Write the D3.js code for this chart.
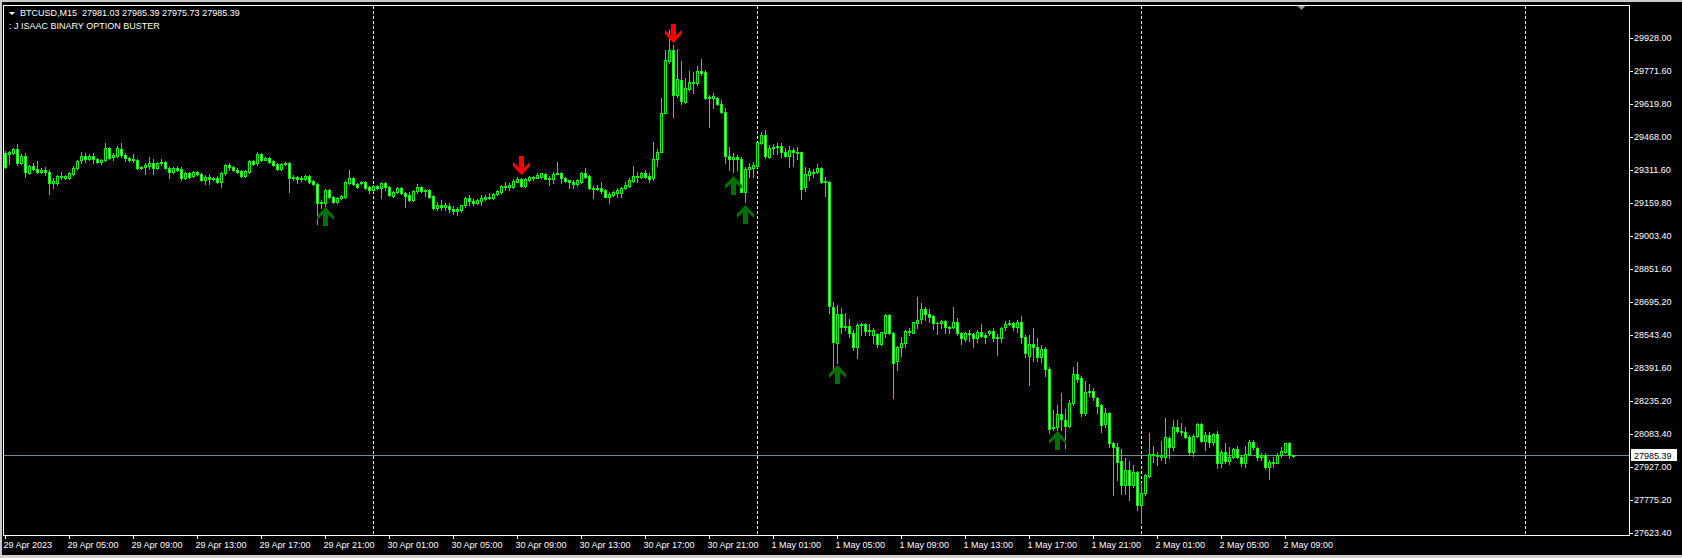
<!DOCTYPE html>
<meta charset="utf-8">

<head>
    <title>BTCUSD,M15</title>
</head>

<style>
    body {
        margin: 0;
        background: #000;
    }

    svg {
        display: block;
    }

    text {
        font-family: "Liberation Sans", Arial, sans-serif;
        font-size: 9px;
        fill: #fff;
        white-space: pre;
    }
</style>

<body>
    <svg></svg>

    <script src="https://cdnjs.cloudflare.com/ajax/libs/d3/7.8.5/d3.min.js"></script>
    <script>

        // Configuration
        var width = 1682;
        var height = 558;

        var symbol = "BTCUSD,M15";
        var indicatorName = "J ISAAC BINARY OPTION BUSTER";

        // M15 bars, first bar 29 Apr 2023 01:00
        var opens = [
            29391, 29387, 29391, 29410, 29345, 29377, 29298, 29331, 29317, 29303,
            29312, 29303, 29252, 29252, 29284, 29275, 29275, 29293, 29321, 29359,
            29377, 29363, 29377, 29363, 29349, 29359, 29415, 29373, 29377, 29410,
            29382, 29368, 29359, 29359, 29321, 29326, 29331, 29345, 29321, 29345,
            29349, 29321, 29303, 29321, 29317, 29275, 29298, 29284, 29303, 29293,
            29266, 29279, 29270, 29275, 29256, 29298, 29335, 29326, 29312, 29307,
            29284, 29303, 29354, 29345, 29387, 29359, 29368, 29354, 29340, 29317,
            29340, 29345, 29275, 29279, 29270, 29270, 29284, 29261, 29247, 29158,
            29158, 29219, 29186, 29163, 29182, 29186, 29252, 29275, 29247, 29252,
            29256, 29233, 29219, 29238, 29228, 29252, 29233, 29191, 29210,
            29228, 29205, 29196, 29172, 29214, 29233, 29214, 29219, 29191, 29135, 29149,
            29140, 29144, 29130, 29121, 29126, 29149, 29182, 29167, 29158, 29167,
            29177, 29182, 29182, 29200, 29210, 29238, 29233, 29233, 29256, 29270,
            29238, 29266, 29275, 29275, 29279, 29293, 29270, 29270, 29293, 29298,
            29275, 29266, 29256, 29247, 29256, 29298, 29284,
            29228, 29224, 29228, 29219, 29186, 29196, 29205, 29205, 29228, 29238,
            29261, 29284, 29279, 29298, 29284, 29275, 29363, 29396, 29577, 29820,
            29871, 29661, 29731, 29629, 29689, 29722, 29717, 29773, 29768, 29652,
            29647, 29647, 29619, 29582, 29377, 29363, 29373, 29363, 29210, 29317,
            29321, 29331, 29438, 29475, 29373, 29415, 29419,
            29424, 29396, 29377, 29405, 29396, 29396, 29233, 29289, 29298, 29303,
            29321, 29261, 29256, 28674, 28507, 28642, 28581, 28586, 28553, 28488,
            28590, 28595, 28562, 28544, 28548, 28502, 28553, 28637, 28553, 28423,
            28488, 28507, 28562, 28553, 28600, 28618, 28665, 28642, 28632, 28600,
            28600, 28609, 28581, 28581, 28604, 28553, 28525, 28553, 28548, 28530,
            28558, 28544, 28553, 28562, 28530, 28530, 28581, 28595, 28600, 28581,
            28604, 28535, 28446, 28502, 28488, 28441, 28479, 28386, 28111, 28116,
            28176, 28148, 28120, 28227, 28362, 28344, 28181, 28278, 28283, 28250,
            28218, 28130, 28181, 28041, 28022, 27957, 27846, 27915, 27846, 27906,
            27752, 27808, 27887, 27990, 27985, 27976, 27976, 28064, 28022, 28115,
            28097, 28092, 28069, 27999, 28074, 28129, 28050, 28078, 28046, 28083,
            27948, 27999, 27957, 27976, 28013, 27976, 27948, 27990, 28046, 28018,
            27976, 27985, 27929, 27953, 27948, 27985, 27999, 28041, 27981.03
        ];
        var highs = [
            29400, 29400, 29415, 29433, 29387, 29391, 29335, 29345, 29354, 29321,
            29326, 29312, 29275, 29289, 29303, 29289, 29303, 29331, 29359, 29396,
            29391, 29387, 29391, 29368, 29363, 29438, 29419, 29391, 29424, 29438,
            29391, 29373, 29387, 29363, 29331, 29345, 29373, 29363, 29349, 29363,
            29354, 29326, 29326, 29331, 29326, 29303, 29303, 29307, 29307, 29298,
            29289, 29293, 29279, 29284, 29303, 29340, 29345, 29331, 29321, 29312,
            29312, 29359, 29359, 29396, 29391, 29373, 29373, 29359, 29345, 29345,
            29349, 29349, 29289, 29284, 29284, 29289, 29289, 29266, 29252, 29172,
            29224, 29224, 29191, 29186, 29196, 29261, 29312, 29279, 29252, 29261,
            29261, 29238, 29242, 29242, 29256, 29256, 29238, 29214, 29233,
            29233, 29210, 29210, 29219, 29247, 29238, 29224, 29224, 29196, 29163, 29172,
            29158, 29158, 29144, 29140, 29149, 29186, 29196, 29177, 29177, 29196,
            29196, 29205, 29205, 29219, 29242, 29256, 29252, 29270, 29279, 29275,
            29275, 29284, 29284, 29298, 29298, 29298, 29284, 29303, 29349, 29303,
            29279, 29266, 29266, 29270, 29303, 29321, 29289,
            29238, 29242, 29256, 29224, 29210, 29214, 29228, 29233, 29256, 29275,
            29331, 29303, 29303, 29312, 29298, 29442, 29410, 29647, 29871, 29964,
            29894, 29875, 29820, 29740, 29773, 29768, 29796, 29829, 29778, 29661,
            29671, 29652, 29638, 29601, 29419, 29391, 29382, 29373, 29326, 29345,
            29349, 29442, 29489, 29498, 29429, 29433, 29438,
            29438, 29415, 29424, 29415, 29419, 29396, 29326, 29321, 29317, 29340,
            29326, 29279, 29261, 28698, 28684, 28670, 28646, 28619, 28567, 28600,
            28600, 28600, 28595, 28576, 28553, 28558, 28642, 28642, 28558, 28493,
            28535, 28567, 28576, 28604, 28721, 28693, 28674, 28665, 28637, 28604,
            28614, 28614, 28586, 28674, 28623, 28558, 28558, 28567, 28553, 28567,
            28595, 28553, 28567, 28576, 28548, 28581, 28609, 28614, 28604, 28614,
            28632, 28544, 28544, 28576, 28530, 28497, 28488, 28395, 28195, 28218,
            28274, 28199, 28241, 28395, 28418, 28353, 28330, 28316, 28297, 28255,
            28223, 28204, 28185, 28046, 28041, 28013, 27971, 27957, 27938, 27911,
            27855, 27897, 28088, 28027, 27999, 28050, 28157, 28074, 28148, 28148,
            28134, 28115, 28078, 28083, 28134, 28134, 28092, 28092, 28088, 28097,
            28008, 28041, 28022, 28018, 28027, 27985, 28027, 28055, 28055, 28022,
            27994, 27994, 27962, 27976, 27994, 28022, 28041, 28046, 27985.39
        ];
        var lows = [
            29321, 29340, 29387, 29335, 29340, 29279, 29293, 29312, 29298, 29298,
            29289, 29200, 29228, 29242, 29270, 29270, 29270, 29289, 29317, 29345,
            29349, 29359, 29345, 29345, 29340, 29354, 29363, 29359, 29373, 29373,
            29354, 29354, 29349, 29317, 29317, 29293, 29317, 29293, 29317, 29335,
            29317, 29275, 29298, 29307, 29266, 29270, 29275, 29279, 29289, 29261,
            29247, 29247, 29266, 29252, 29233, 29289, 29312, 29307, 29298, 29279,
            29279, 29298, 29335, 29335, 29354, 29359, 29345, 29331, 29312, 29312,
            29335, 29210, 29266, 29252, 29261, 29266, 29252, 29242, 29061, 29135,
            29144, 29182, 29158, 29158, 29177, 29182, 29247, 29242, 29228, 29247,
            29224, 29205, 29214, 29224, 29182, 29219, 29191, 29186, 29205,
            29200, 29140, 29167, 29167, 29205, 29210, 29191, 29182, 29130, 29126, 29126,
            29126, 29117, 29107, 29102, 29117, 29140, 29149, 29149, 29154, 29149,
            29172, 29177, 29177, 29196, 29205, 29219, 29219, 29228, 29256, 29233,
            29233, 29261, 29266, 29275, 29275, 29270, 29242, 29252, 29293, 29252,
            29256, 29228, 29228, 29238, 29252, 29275, 29224,
            29182, 29219, 29205, 29186, 29158, 29191, 29186, 29186, 29224, 29233,
            29256, 29256, 29275, 29275, 29256, 29266, 29331, 29396, 29577, 29810,
            29559, 29652, 29619, 29624, 29685, 29671, 29708, 29754, 29643, 29512,
            29601, 29615, 29577, 29345, 29312, 29303, 29312, 29210, 29163, 29279,
            29279, 29326, 29433, 29368, 29368, 29387, 29387,
            29373, 29373, 29326, 29331, 29363, 29177, 29214, 29266, 29279, 29298,
            29252, 29191, 28646, 28372, 28414, 28553, 28567, 28535, 28474, 28437,
            28544, 28544, 28544, 28507, 28488, 28497, 28535, 28548, 28251, 28381,
            28446, 28488, 28544, 28553, 28576, 28600, 28614, 28604, 28572, 28548,
            28576, 28553, 28553, 28576, 28544, 28502, 28516, 28516, 28488, 28511,
            28535, 28507, 28544, 28516, 28451, 28511, 28567, 28590, 28567, 28558,
            28507, 28441, 28311, 28423, 28423, 28418, 28353, 28088, 28101, 28101,
            28101, 28018, 28115, 28218, 28325, 28167, 28171, 28260, 28241, 28181,
            28092, 28115, 28022, 27799, 27869, 27804, 27804, 27776, 27836, 27729,
            27668, 27799, 27883, 27952, 27939, 27962, 27948, 27971, 28008, 28088,
            28078, 28064, 27985, 27980, 28069, 28046, 28008, 28022, 28032, 27925,
            27929, 27948, 27943, 27971, 27971, 27934, 27929, 27985, 28013, 27962,
            27962, 27920, 27873, 27929, 27948, 27976, 27994, 27971, 27975.73
        ];
        var closes = [
            29326, 29396, 29410, 29345, 29377, 29303, 29331, 29317, 29303, 29312,
            29303, 29252, 29261, 29284, 29279, 29284, 29298, 29321, 29354, 29377,
            29363, 29377, 29363, 29349, 29359, 29415, 29368, 29382, 29415, 29382,
            29368, 29359, 29363, 29321, 29326, 29335, 29345, 29321, 29345, 29349,
            29321, 29303, 29321, 29312, 29275, 29298, 29279, 29303, 29293, 29266,
            29279, 29270, 29275, 29256, 29298, 29335, 29326, 29312, 29303, 29284,
            29307, 29354, 29340, 29387, 29359, 29368, 29349, 29335, 29317, 29340,
            29345, 29275, 29279, 29270, 29275, 29284, 29256, 29247, 29158, 29163,
            29219, 29186, 29163, 29182, 29191, 29256, 29275, 29247, 29233, 29256,
            29228, 29219, 29238, 29228, 29252, 29233, 29196, 29210, 29228,
            29205, 29191, 29172, 29214, 29233, 29214, 29219, 29186, 29135, 29149, 29140,
            29149, 29130, 29121, 29130, 29149, 29182, 29167, 29158, 29172, 29182,
            29186, 29186, 29200, 29214, 29238, 29233, 29242, 29261, 29270, 29238,
            29270, 29279, 29279, 29289, 29298, 29270, 29275, 29293, 29298, 29275,
            29261, 29256, 29247, 29266, 29298, 29279, 29228,
            29224, 29228, 29214, 29186, 29200, 29210, 29219, 29228, 29242, 29266,
            29284, 29279, 29298, 29279, 29270, 29363, 29396, 29577, 29824, 29871,
            29661, 29736, 29633, 29694, 29722, 29717, 29773, 29764, 29647, 29647,
            29657, 29619, 29582, 29377, 29363, 29373, 29363, 29210, 29317, 29326,
            29335, 29442, 29475, 29377, 29415, 29419, 29424,
            29396, 29377, 29405, 29396, 29391, 29224, 29293, 29307, 29303, 29321,
            29256, 29256, 28679, 28511, 28642, 28581, 28586, 28553, 28488, 28590,
            28595, 28562, 28567, 28567, 28502, 28558, 28637, 28553, 28414, 28488,
            28507, 28562, 28558, 28604, 28614, 28665, 28642, 28628, 28600, 28598,
            28609, 28581, 28576, 28604, 28553, 28530, 28553, 28548, 28530, 28558,
            28539, 28535, 28562, 28530, 28535, 28576, 28595, 28600, 28581, 28604,
            28535, 28460, 28502, 28488, 28441, 28479, 28386, 28106, 28116, 28176,
            28153, 28120, 28227, 28362, 28339, 28181, 28278, 28283, 28255, 28213,
            28125, 28181, 28041, 28022, 27953, 27846, 27915, 27846, 27906, 27752,
            27808, 27892, 27990, 27985, 27980, 27985, 28069, 28022, 28115, 28097,
            28092, 28069, 27999, 28074, 28129, 28050, 28078, 28046, 28083, 27948,
            27999, 27957, 27976, 28013, 27976, 27948, 27990, 28046, 28022, 27976,
            27985, 27929, 27953, 27948, 27985, 28004, 28041, 27985, 27985.39
        ];

        // indicator signals: bar index + arrow tip price
        var sellIdx = [129, 167];
        var sellPrice = [29289, 29903];
        var buyIdx = [80, 182, 185, 208, 263];
        var buyPrice = [29140, 29284, 29149, 28404, 28097];

        // bar index of each day start (00:00)
        var daySeparators = [92, 188, 284, 380];
        var shiftMarkIdx = 324;

        var timeLabels = [
            "29 Apr 2023", "29 Apr 05:00", "29 Apr 09:00", "29 Apr 13:00", "29 Apr 17:00", "29 Apr 21:00",
            "30 Apr 01:00", "30 Apr 05:00", "30 Apr 09:00", "30 Apr 13:00", "30 Apr 17:00", "30 Apr 21:00",
            "1 May 01:00", "1 May 05:00", "1 May 09:00", "1 May 13:00", "1 May 17:00", "1 May 21:00",
            "2 May 01:00", "2 May 05:00", "2 May 09:00"
        ];
        var priceTicks = [
            29928.00, 29771.60, 29619.80, 29468.00, 29311.60, 29159.80, 29003.40, 28851.60,
            28695.20, 28543.40, 28391.60, 28235.20, 28083.40, 27927.00, 27775.20, 27623.40
        ];

        // Frame (note: "top" is taken by window.top, so prefixed names)
        var frameL = 3, frameT = 5, frameR = 1629, frameB = 535;
        var barStep = 4;
        var n = opens.length;

        var x = d3.scaleLinear()
            .domain([0, n - 1])
            .range([5, 5 + barStep * (n - 1)]);
        var y = d3.scaleLinear()
            .domain([27612.6, 30080.3])
            .range([frameB, frameT]);

        const svg = d3.select('svg')
            .attr('width', width)
            .attr('height', height)
            .attr('shape-rendering', 'crispEdges');

        svg.append('rect').attr('width', width).attr('height', height).attr('fill', '#000');

        // window border
        svg.append('rect').attr('x', 0).attr('y', 0).attr('width', width).attr('height', 2).attr('fill', '#c8c8c8');
        svg.append('rect').attr('x', 0).attr('y', 0).attr('width', 2).attr('height', height).attr('fill', '#c8c8c8');
        svg.append('rect').attr('x', 0).attr('y', height - 3).attr('width', width).attr('height', 3).attr('fill', '#d4d0c8');

        // day separators
        svg.append('g')
            .selectAll('line')
            .data(daySeparators)
            .enter()
            .append('line')
            .attr('x1', d => Math.round(x(d)) + 0.5)
            .attr('x2', d => Math.round(x(d)) + 0.5)
            .attr('y1', frameT + 1)
            .attr('y2', frameB)
            .attr('stroke', '#fff')
            .attr('stroke-dasharray', '3,2');

        // bid line
        const last = closes[n - 1];
        const lastY = Math.round(y(last));
        svg.append('line')
            .attr('x1', frameL).attr('x2', frameR)
            .attr('y1', lastY + 0.5).attr('y2', lastY + 0.5)
            .attr('stroke', '#778899');

        // candles
        const bars = d3.range(n);
        const candles = svg.append('g');
        candles.selectAll('rect.wick')
            .data(bars)
            .enter()
            .append('rect')
            .attr('class', 'wick')
            .attr('x', i => Math.round(x(i)))
            .attr('y', i => Math.round(y(highs[i])))
            .attr('width', 1)
            .attr('height', i => Math.round(y(lows[i])) - Math.round(y(highs[i])) + 1)
            .attr('fill', '#00ff00');

        const bodyTop = i => Math.round(y(Math.max(opens[i], closes[i])));
        const bodyBot = i => Math.round(y(Math.min(opens[i], closes[i])));

        candles.selectAll('rect.body')
            .data(bars)
            .enter()
            .append('rect')
            .attr('class', 'body')
            .attr('x', i => Math.round(x(i)) - 1)
            .attr('y', bodyTop)
            .attr('width', 3)
            .attr('height', i => bodyBot(i) - bodyTop(i) + 1)
            .attr('fill', '#00ff00');

        candles.selectAll('rect.fill')
            .data(bars.filter(i => bodyBot(i) - bodyTop(i) >= 2))
            .enter()
            .append('rect')
            .attr('class', 'fill')
            .attr('x', i => Math.round(x(i)))
            .attr('y', i => bodyTop(i) + 1)
            .attr('width', 1)
            .attr('height', i => bodyBot(i) - bodyTop(i) - 1)
            .attr('fill', i => closes[i] < opens[i] ? '#fff' : '#000');

        // arrows (tip at origin, pointing up)
        const upArrow = 'M0,0 L8.5,9 L8.5,13 L2.5,7.5 L2.5,19 L-2.5,19 L-2.5,7.5 L-8.5,13 L-8.5,9 Z';
        const arrows = svg.append('g').attr('shape-rendering', 'auto');
        arrows.selectAll('path.buy')
            .data(buyIdx)
            .enter()
            .append('path')
            .attr('class', 'buy')
            .attr('d', upArrow)
            .attr('transform', (d, k) => `translate(${Math.round(x(d)) + 0.5}, ${Math.round(y(buyPrice[k]))})`)
            .attr('fill', '#007000');
        arrows.selectAll('path.sell')
            .data(sellIdx)
            .enter()
            .append('path')
            .attr('class', 'sell')
            .attr('d', upArrow)
            .attr('transform', (d, k) => `translate(${Math.round(x(d)) + 0.5}, ${Math.round(y(sellPrice[k]))}) scale(1,-1)`)
            .attr('fill', '#ff0000');

        // chart shift marker
        const sx = Math.round(x(shiftMarkIdx)) + 0.5;
        svg.append('path')
            .attr('d', `M${sx - 4},${frameT + 1} L${sx + 4},${frameT + 1} L${sx},${frameT + 5} Z`)
            .attr('fill', '#8a96a8')
            .attr('shape-rendering', 'auto');

        // frame
        svg.append('rect')
            .attr('x', frameL + 0.5).attr('y', frameT + 0.5)
            .attr('width', frameR - frameL).attr('height', frameB - frameT)
            .attr('fill', 'none')
            .attr('stroke', '#fff');

        // time axis
        const xAxis = d3.axisBottom(x)
            .tickValues(d3.range(0, timeLabels.length * 16, 16))
            .tickFormat((d, i) => timeLabels[i])
            .tickSize(4)
            .tickSizeOuter(0);
        const gx = svg.append('g')
            .attr('transform', `translate(0, ${frameB})`)
            .call(xAxis);
        gx.select('.domain').remove();
        gx.selectAll('line').attr('stroke', '#fff');
        gx.selectAll('text')
            .attr('fill', '#fff')
            .attr('text-anchor', 'start')
            .attr('x', -2)
            .attr('y', 13)
            .attr('dy', null)
            .style('font-size', '9px')
            .style('font-family', '"Liberation Sans", Arial, sans-serif');

        // price axis
        const yAxis = d3.axisRight(y.copy().rangeRound([frameB, frameT]))
            .tickValues(priceTicks)
            .tickFormat(d3.format('.2f'))
            .tickSize(4)
            .tickPadding(1);
        const gy = svg.append('g')
            .attr('transform', `translate(${frameR}, 0)`)
            .call(yAxis);
        gy.select('.domain').remove();
        gy.selectAll('line').attr('stroke', '#fff');
        gy.selectAll('text')
            .attr('fill', '#fff')
            .style('font-size', '9px')
            .style('font-family', '"Liberation Sans", Arial, sans-serif');

        // current price label
        svg.append('rect')
            .attr('x', frameR + 2).attr('y', lastY - 6)
            .attr('width', 46).attr('height', 12)
            .attr('fill', '#fff');
        svg.append('text')
            .attr('x', frameR + 5).attr('y', lastY + 3.5)
            .style('fill', '#000')
            .text(d3.format('.2f')(last));

        // header
        svg.append('path')
            .attr('d', 'M9,12 L15,12 L12,15 Z')
            .attr('fill', '#fff')
            .attr('shape-rendering', 'auto');
        const f = d3.format('.2f');
        svg.append('text')
            .attr('x', 20).attr('y', 16)
            .text(`${symbol}  ${f(opens[n - 1])} ${f(highs[n - 1])} ${f(lows[n - 1])} ${f(closes[n - 1])}`);
        svg.append('text')
            .attr('x', 9).attr('y', 29)
            .text(`: ${indicatorName}`);

    </script>

</body>

</html>
